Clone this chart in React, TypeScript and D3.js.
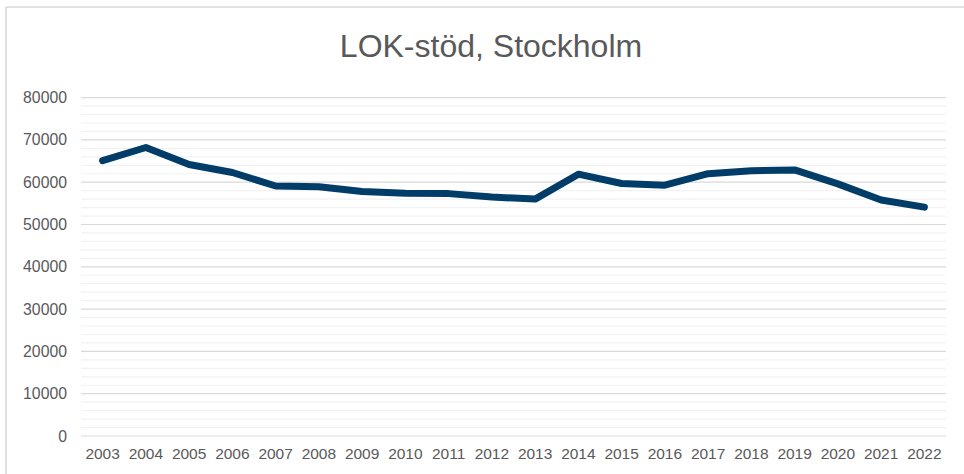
import React from "react";
import * as d3 from "d3";

const years = ["2003","2004","2005","2006","2007","2008","2009","2010","2011","2012","2013","2014","2015","2016","2017","2018","2019","2020","2021","2022"];
const values = [65100, 68200, 64200, 62300, 59100, 58900, 57800, 57400, 57300, 56500, 56000, 61900, 59700, 59300, 62000, 62700, 62900, 59600, 55800, 54100];
const yTicks = [0, 10000, 20000, 30000, 40000, 50000, 60000, 70000, 80000];
const title = "LOK-stöd, Stockholm";

const W = 964, H = 474;
const left = 81, right = 946, top = 97.6, bottom = 436;

export default function App() {
  const x = d3.scaleBand<string>().domain(years).range([left, right]);
  const y = d3.scaleLinear().domain([0, 80000]).range([bottom, top]);
  const minor = d3.range(0, 80001, 2000).filter((v) => v % 10000 !== 0);
  const line = d3
    .line<number>()
    .x((_, i) => (x(years[i]) as number) + x.bandwidth() / 2)
    .y((d) => y(d));
  const font = "'Liberation Sans', Arial, sans-serif";
  return (
    <svg width={W} height={H} style={{ position: "absolute", left: 0, top: 0 }}>
      <rect x={0} y={0} width={W} height={H} fill="#fff" />
      <line x1={6} x2={W} y1={7} y2={7} stroke="#d9d9d9" strokeWidth={1.5} />
      <line x1={6} x2={6} y1={7} y2={H} stroke="#d9d9d9" strokeWidth={1.5} />
      <text x={491} y={57} textAnchor="middle" fontFamily={font} fontSize={32} fill="#595959">
        {title}
      </text>
      {minor.map((v) => (
        <line key={"m" + v} x1={left} x2={right} y1={y(v)} y2={y(v)} stroke="#f2f2f2" strokeWidth={1.2} />
      ))}
      {yTicks.map((v) => (
        <line key={"g" + v} x1={left} x2={right} y1={y(v)} y2={y(v)} stroke="#d9d9d9" strokeWidth={1.2} />
      ))}
      {yTicks.map((v) => (
        <text key={"t" + v} x={67} y={y(v)} dy="0.35em" textAnchor="end" fontFamily={font} fontSize={15.8} fill="#595959">
          {v}
        </text>
      ))}
      {years.map((yr) => (
        <text key={yr} x={(x(yr) as number) + x.bandwidth() / 2} y={459} textAnchor="middle" fontFamily={font} fontSize={15.5} fill="#595959">
          {yr}
        </text>
      ))}
      <path d={line(values) || ""} fill="none" stroke="#023d69" strokeWidth={7} strokeLinecap="round" strokeLinejoin="round" />
    </svg>
  );
}
